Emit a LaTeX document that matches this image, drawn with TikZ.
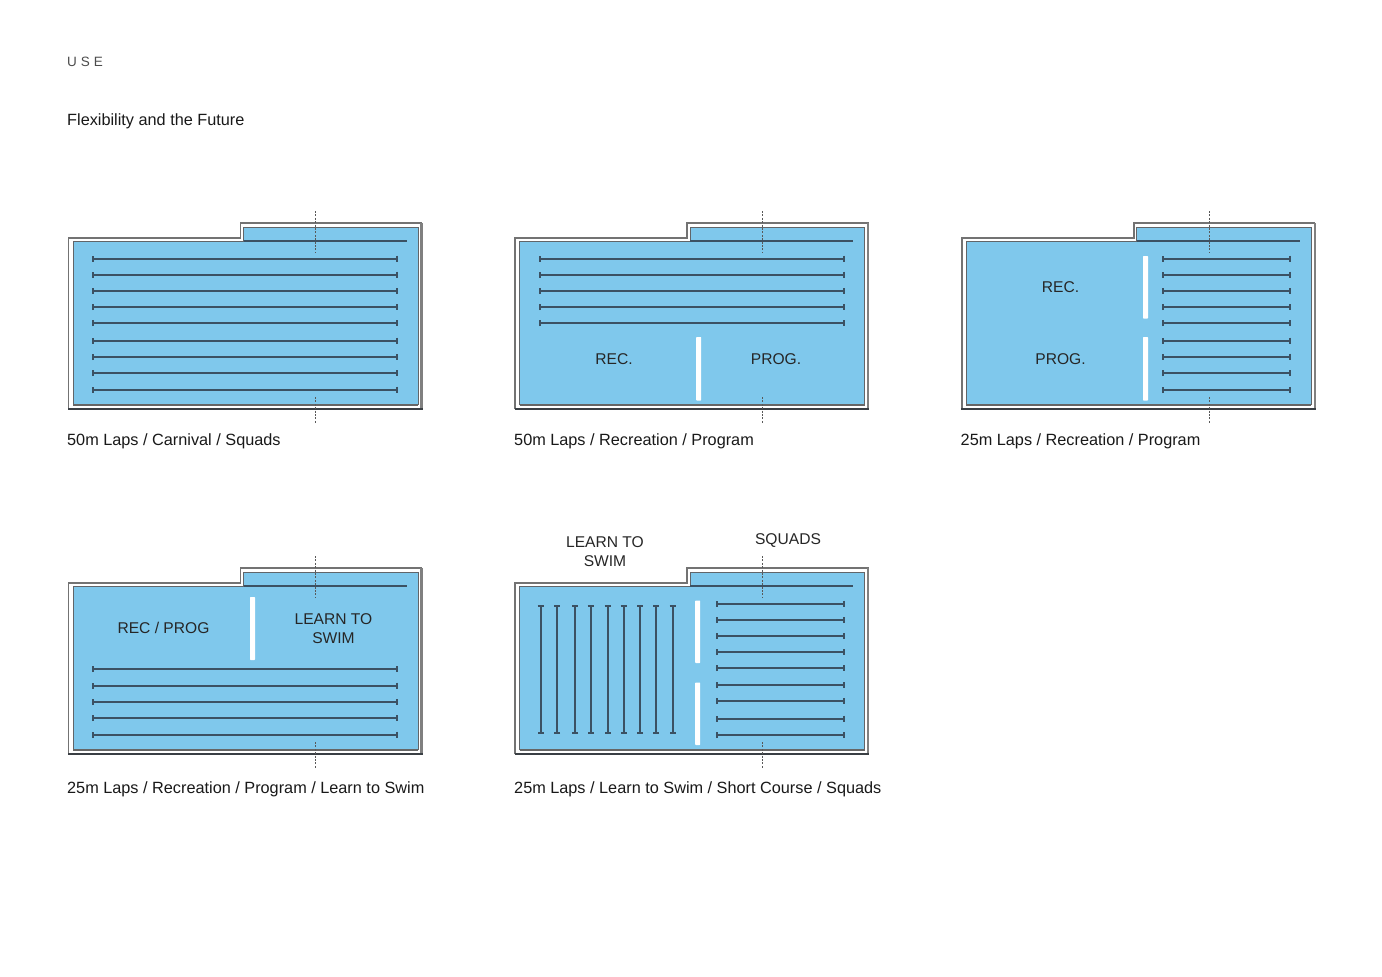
\documentclass[tikz,border=0pt]{standalone}
\usepackage{fontspec}
\setmainfont{Liberation Sans}
\usetikzlibrary{arrows.meta}
\definecolor{poolblue}{HTML}{7FC8EC}
\definecolor{lanedark}{HTML}{3B5163}
\definecolor{edgedark}{HTML}{3A3F44}
\tikzset{
  lane/.style={draw=lanedark,line width=2pt,{Bar[width=6pt,length=1.4pt]}-{Bar[width=6pt,length=1.4pt]}},
  bulkhead/.style={fill=white,draw=none,rounded corners=0.6pt},
  axisline/.style={draw=black!65,line width=1pt,dash pattern=on 2pt off 1.4pt},
  caption/.style={anchor=base west,inner sep=0pt,font=\fontsize{16.27}{18}\selectfont,text=black!90},
  label/.style={align=center,inner sep=0pt,font=\fontsize{15.6}{19}\selectfont,text=black!85},
}
\newcommand{\poolshape}[2]{%
  \begin{scope}[shift={(#1,#2)}]
    \fill[poolblue] (73,241) -- (243.5,241) -- (243.5,227) -- (418,227) -- (418,405) -- (73,405) -- cycle;
    \draw[draw=black!55,line width=1.6pt] (68.5,409) -- (68.5,238) -- (240.5,238) -- (240.5,223) -- (422,223);
    \draw[draw=black!50,line width=2.2pt] (421.5,223) -- (421.5,409);
    \draw[draw=edgedark,line width=1.7pt] (68,409) -- (422.5,409);
    \draw[draw=edgedark!80,line width=1pt] (73,405) -- (73,241.5) -- (243.5,241.5) -- (243.5,227) -- (418,227) -- (418,405);
    \draw[draw=black!60,line width=1.7pt] (73,405) -- (418,405);
    \draw[draw=lanedark,line width=2.2pt] (243.5,241) -- (406.5,241);
    \draw[axisline] (315.7,211) -- (315.7,253);
    \draw[axisline] (315.7,397) -- (315.7,423);
  \end{scope}}
\newcommand{\lanes}[3]{% x1, x2, ys
  \foreach \yy in {#3} {\draw[lane] (#1,\yy) -- (#2,\yy);}}
\begin{document}
\begin{tikzpicture}[x=1pt,y=-1pt]
\useasboundingbox (0,0) rectangle (1382,977);
\fill[white] (0,0) rectangle (1382,977);

\node[caption,font=\fontsize{13.5}{16}\selectfont,text=black!70] (title) at (67,66) {U\hspace{4pt}S\hspace{4pt}E};
\node[caption] (subtitle) at (67,125.3) {Flexibility and the Future};

% pool 1
\poolshape{0}{0}
\lanes{92}{397.7}{258.5,274.5,291,307,323,340.5,357,373,389.5}
\node[caption] (cap1) at (67,445.6) {50m Laps / Carnival / Squads};

% pool 2
\poolshape{446.7}{0}
\lanes{538.7}{844.7}{258.5,274.5,291,307,323}
\fill[bulkhead] (696.2,337) rectangle (701.2,400.5);
\node[label] (rec2) at (614,358.8) {REC.};
\node[label] (prog2) at (776,358.8) {PROG.};
\node[caption] (cap2) at (514,445.6) {50m Laps / Recreation / Program};

% pool 3
\poolshape{893.3}{0}
\lanes{1161.7}{1291}{258.5,274.5,291,307,323,340.5,356.5,373,390}
\fill[bulkhead] (1143,256) rectangle (1148,318.5);
\fill[bulkhead] (1143,337) rectangle (1148,400.5);
\node[label] (rec3) at (1060.5,287.5) {REC.};
\node[label] (prog3) at (1060.5,358.8) {PROG.};
\node[caption] (cap3) at (960.5,445.6) {25m Laps / Recreation / Program};

% pool 4
\poolshape{0}{345}
\lanes{92}{397.7}{669,685.5,702,718,734.5}
\fill[bulkhead] (250,597) rectangle (255,660);
\node[label] (rec4) at (163.5,628) {REC / PROG};
\node[label] (learn4) at (333.5,628.5) {LEARN TO\\SWIM};
\node[caption] (cap4) at (67,793.6) {25m Laps / Recreation / Program / Learn to Swim};

% pool 5
\poolshape{446.7}{345}
\foreach \xx in {540.7,557,575,590.5,607.5,623.5,640,656,672.5} {\draw[lane] (\xx,605) -- (\xx,733.7);}
\fill[bulkhead] (695.2,600.5) rectangle (700.2,663);
\fill[bulkhead] (695.2,682.5) rectangle (700.2,745);
\lanes{715.7}{844.7}{603.5,620,636,652,668,685,701,718.5,735}
\node[label] (learn5) at (605,551.5) {LEARN TO\\SWIM};
\node[label] (squads5) at (788,540.5) {SQUADS};
\node[caption] (cap5) at (514,793.6) {25m Laps / Learn to Swim / Short Course / Squads};
\end{tikzpicture}
\end{document}
